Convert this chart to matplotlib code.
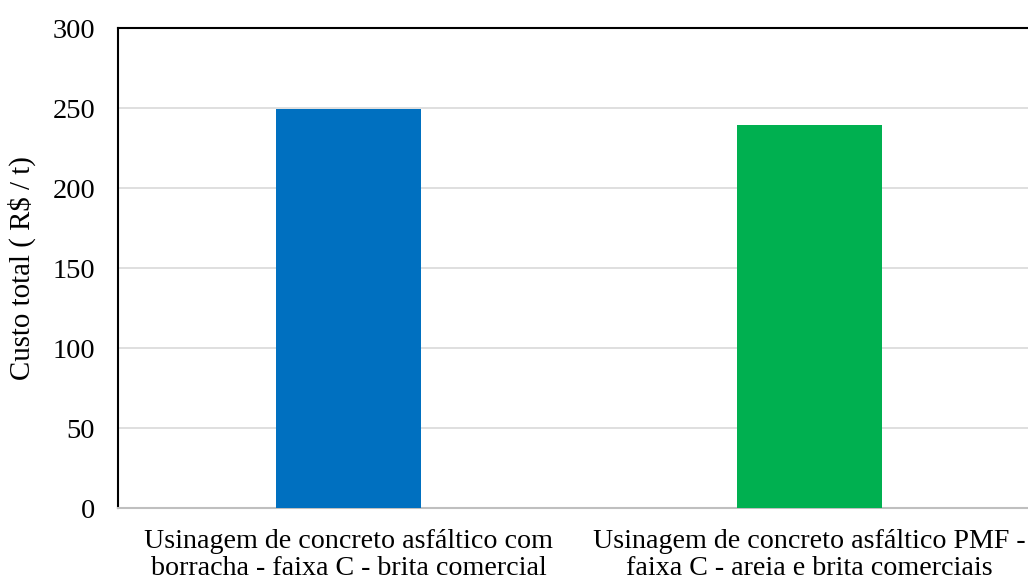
import matplotlib
matplotlib.use('Agg')
import matplotlib.pyplot as plt
import numpy as np

categories = ['Usinagem de concreto asfáltico com\nborracha - faixa C - brita comercial',
              'Usinagem de concreto asfáltico PMF -\nfaixa C - areia e brita comerciais']
custo = [249.5, 239.4]
cores = ['#0070C0', '#00B050']
yticks = [0, 50, 100, 150, 200, 250, 300]

plt.rcParams['font.family'] = ['Liberation Serif', 'DejaVu Serif']

fig = plt.figure(figsize=(10.28, 5.86), dpi=100)
ax = fig.add_axes([0.1148, 0.1331, 0.8969, 0.8191])

x = np.arange(len(categories))
ax.bar(x, custo, width=0.315, color=cores, zorder=3)

ax.set_xlim(-0.5, 1.5)
ax.set_ylim(0, 300)
ax.set_yticks(yticks)
ax.set_xticks(x)
ax.set_xticklabels(categories, fontsize=20.2, linespacing=1.12)
ax.tick_params(axis='y', labelsize=20.5, length=0, pad=16.5)
ax.tick_params(axis='x', length=0, pad=15)
ax.set_ylabel('Custo total ( R$ / t)', fontsize=20.8, labelpad=12)

ax.grid(axis='y', color='#d9d9d9', linewidth=1.2, zorder=0)
ax.spines['top'].set_color('black')
ax.spines['top'].set_linewidth(1.5)
ax.spines['left'].set_color('black')
ax.spines['left'].set_linewidth(1.5)
ax.spines['bottom'].set_color('#bfbfbf')
ax.spines['bottom'].set_linewidth(1.5)
ax.spines['right'].set_visible(False)

fig.savefig('out.png', dpi=100)
